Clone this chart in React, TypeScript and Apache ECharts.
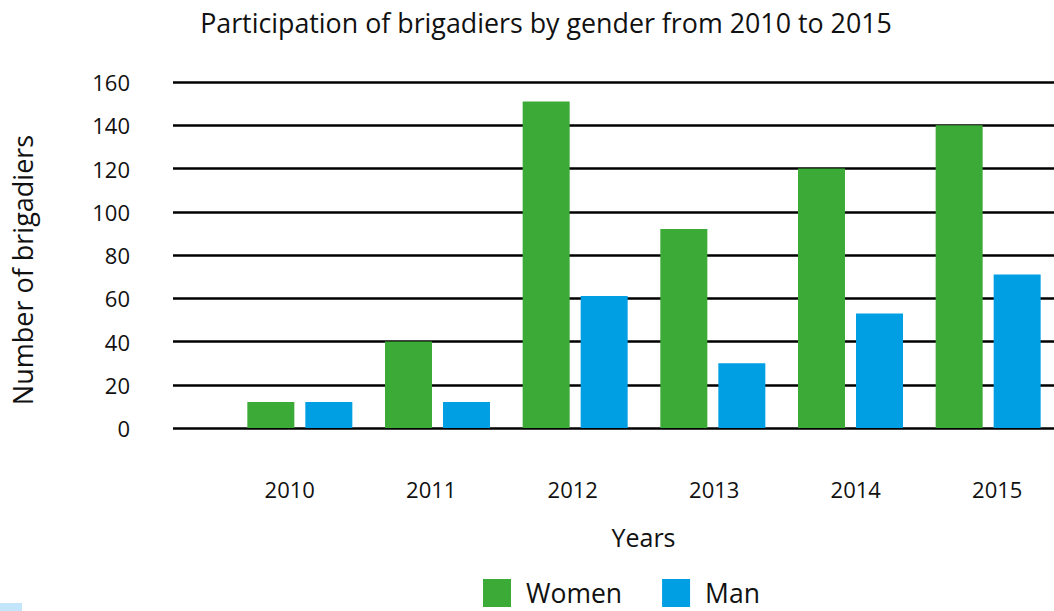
import React, { useEffect, useRef } from "react";
import * as echarts from "echarts";

const years = ["2010", "2011", "2012", "2013", "2014", "2015"];
const women = [12, 40, 151, 92, 120, 140];
const man = [12, 12, 61, 30, 53, 71];
const yMin = 0;
const yMax = 160;
const yStep = 20;

const FONT = "'Open Sans', sans-serif";
const GREEN = "#3caa36";
const BLUE = "#009fe3";

export default function App() {
  const ref = useRef<HTMLDivElement>(null);

  useEffect(() => {
    document.body.style.margin = "0";
    const chart = echarts.init(ref.current!, null, { renderer: "svg" });
    const top = 82;
    const bottom = 183;
    chart.setOption({
      animation: false,
      backgroundColor: "#ffffff",
      textStyle: { fontFamily: FONT },
      grid: [
        { left: 173, right: 0, top, bottom, outerBoundsMode: "none", containLabel: false },
        { left: 231, right: -3, top, bottom, outerBoundsMode: "none", containLabel: false },
        { left: 219, right: -14, top, bottom, outerBoundsMode: "none", containLabel: false },
      ],
      xAxis: [
        { gridIndex: 0, type: "category", data: years, show: false },
        { gridIndex: 1, type: "category", data: years, show: false },
        {
          gridIndex: 2,
          type: "category",
          data: years,
          axisLine: { show: false },
          axisTick: { show: false },
          axisLabel: { fontSize: 22, color: "#111", margin: 50, fontFamily: FONT },
          name: "Years",
          nameLocation: "middle",
          nameGap: 96,
          nameTextStyle: { fontSize: 25, color: "#111", fontFamily: FONT },
        },
      ],
      yAxis: [
        {
          gridIndex: 0,
          type: "value",
          min: yMin,
          max: yMax,
          interval: yStep,
          axisLine: { show: false },
          axisTick: { show: false },
          axisLabel: { fontSize: 22, color: "#111", margin: 43, fontFamily: FONT },
          splitLine: { show: true, lineStyle: { color: "#000", width: 2.5 } },
        },
        { gridIndex: 1, type: "value", min: yMin, max: yMax, interval: yStep, show: false, splitLine: { show: false } },
        { gridIndex: 2, type: "value", min: yMin, max: yMax, interval: yStep, show: false, splitLine: { show: false } },
      ],
      legend: {
        left: 483,
        top: 579,
        padding: 0,
        itemWidth: 28,
        itemHeight: 28,
        itemGap: 40,
        icon: "rect",
        textStyle: { fontSize: 26.5, color: "#111", fontFamily: FONT, padding: [0, 0, 0, 10] },
        data: ["Women", "Man"],
      },
      series: [
        {
          name: "Women",
          type: "bar",
          xAxisIndex: 1,
          yAxisIndex: 1,
          data: women,
          barWidth: 47,
          barGap: "23.4%",
          itemStyle: { color: GREEN },
          z: 3,
        },
        {
          name: "Man",
          type: "bar",
          xAxisIndex: 1,
          yAxisIndex: 1,
          data: man,
          barWidth: 47,
          barGap: "23.4%",
          itemStyle: { color: BLUE },
          z: 3,
        },
      ],
      graphic: [
        {
          type: "text",
          x: 546,
          y: 22,
          style: {
            text: "Participation of brigadiers by gender from 2010 to 2015",
            fontSize: 26.8,
            fontFamily: FONT,
            fill: "#111",
            align: "center",
            verticalAlign: "middle",
          },
        },
        {
          type: "text",
          x: 22,
          y: 270,
          rotation: Math.PI / 2,
          style: {
            text: "Number of brigadiers",
            fontSize: 27,
            fontFamily: FONT,
            fill: "#111",
            align: "center",
            verticalAlign: "middle",
          },
        },
        {
          type: "rect",
          shape: { x: 0, y: 603, width: 22, height: 8 },
          style: { fill: "#c2e5fb" },
        },
      ],
    });
    return () => chart.dispose();
  }, []);

  return (
    <div
      ref={ref}
      style={{ position: "absolute", left: 0, top: 0, width: 1054, height: 611 }}
    />
  );
}
